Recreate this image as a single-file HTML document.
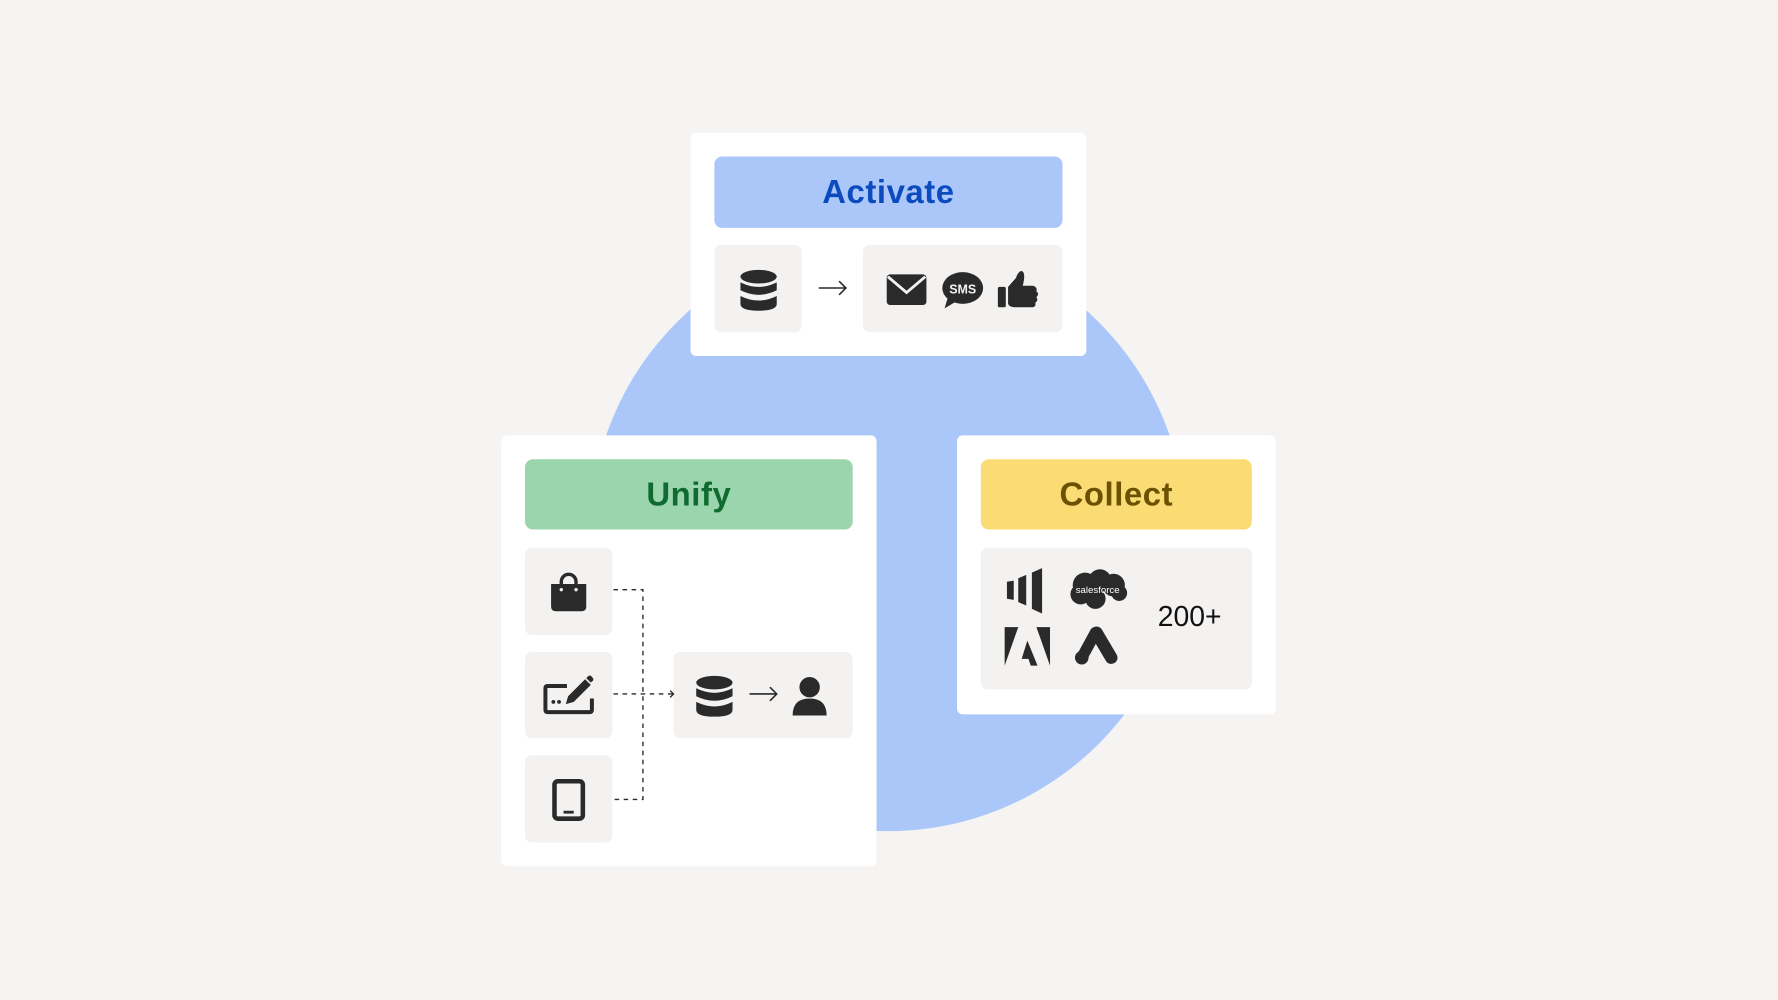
<!DOCTYPE html>
<html><head><meta charset="utf-8"><style>
html,body{margin:0;padding:0;width:1778px;height:1000px;overflow:hidden;background:#f5f4f2;}
#w{position:absolute;left:0;top:0;width:1568px;height:882px;transform:scale(1.13393);transform-origin:0 0;font-family:"Liberation Sans",sans-serif;}
.a{position:absolute;}
.card{background:#fff;border-radius:5px;}
.hd{border-radius:7px;display:flex;align-items:center;justify-content:center;font-weight:bold;font-size:29px;letter-spacing:0.5px;padding-top:2px;box-sizing:border-box;}
.bx{background:#f3f2f0;border-radius:6px;}
</style></head><body><div id="w">
<div class="a" style="left:520px;top:207px;width:526px;height:526px;border-radius:50%;background:#abc7fa"></div>

<div class="a card" style="left:609px;top:117px;width:349px;height:197px"></div>
<div class="a hd" style="left:630px;top:138px;width:307px;height:63px;background:#abc7fa;color:#0b4bbd">Activate</div>
<div class="a bx" style="left:630px;top:216px;width:77px;height:77px"></div>
<div class="a bx" style="left:761px;top:216px;width:176px;height:77px"></div>

<div class="a card" style="left:442px;top:384px;width:331px;height:380px"></div>
<div class="a hd" style="left:463px;top:405px;width:289px;height:62px;background:#9bd5ae;color:#0f6b2f">Unify</div>
<div class="a bx" style="left:463px;top:483px;width:77px;height:77px"></div>
<div class="a bx" style="left:463px;top:575px;width:77px;height:76px"></div>
<div class="a bx" style="left:463px;top:666px;width:77px;height:77px"></div>
<div class="a bx" style="left:594px;top:575px;width:158px;height:76px"></div>

<div class="a card" style="left:844px;top:384px;width:281px;height:246px"></div>
<div class="a hd" style="left:865px;top:405px;width:239px;height:62px;background:#fbdb74;color:#6b5200">Collect</div>
<div class="a bx" style="left:865px;top:483px;width:239px;height:125px"></div>
<div class="a" style="left:1021px;top:530px;font-size:25px;color:#111">200+</div>

<svg class="a" style="left:0;top:0" width="1568" height="882" viewBox="0 0 1568 882">
<defs><g id="db"><ellipse cx="0" cy="-12" rx="16" ry="6"/><path d="M-16 -7 q16 8 32 0 v7 q-16 8 -32 0z"/><path d="M-16 5 q16 8 32 0 v7 q0 6 -16 6 q-16 0 -16 -6z"/></g></defs>
<g fill="#2a2a2a">
<use href="#db" x="669" y="256"/>
<use href="#db" x="630" y="614"/>
<rect x="782" y="242" width="35" height="27" rx="3"/>
<path d="M783 244 L799.5 258 L816 244" stroke="#f3f2f0" stroke-width="2.5" fill="none"/>
<ellipse cx="849" cy="254" rx="18" ry="14"/><path d="M836 262 l-3 10 l10 -6z"/>
<text x="849" y="259" font-size="11" font-weight="bold" fill="#f3f2f0" text-anchor="middle" font-family="Liberation Sans">SMS</text>
<rect x="880" y="253" width="7" height="18" rx="1.5"/>
<path d="M889 253 l7 -8 q2 -6 5 -6 q3 1 2 8 l-1 5 h9 q4 1 3 5 q3 2 0 5 q2 3 -1 5 q1 4 -3 4 h-14 q-7 0 -7 -4z"/>
<path d="M495 517 v-4 a6.5 6.5 0 0 1 13 0 v4" stroke="#2a2a2a" stroke-width="3" fill="none"/>
<path d="M486 515 h31 v20 q0 4 -4 4 h-23 q-4 0 -4 -4z"/>
<circle cx="495" cy="520" r="1.5" fill="#f3f2f0"/><circle cx="508" cy="520" r="1.5" fill="#f3f2f0"/>
<path d="M500 605 h-17 q-2 0 -2 2 v19 q0 2 2 2 h37 q2 0 2 -2 v-10" stroke="#2a2a2a" stroke-width="3.5" fill="none"/>
<circle cx="488" cy="619" r="1.7"/><circle cx="493" cy="619" r="1.7"/>
<path d="M499 621 l2 -7 l15 -15 l5 5 l-15 15z"/><path d="M517 598 l2 -2 q2 -1 3 1 l1 1 q1 2 -1 3 l-1 1z"/>
<rect x="489" y="689" width="25" height="33" rx="3" fill="none" stroke="#2a2a2a" stroke-width="4"/>
<rect x="497" y="715" width="9" height="2.5" fill="#2a2a2a"/>
<circle cx="714" cy="606" r="9"/><path d="M699 631 q0 -15 15 -15 q15 0 15 15z"/>
<path d="M888 513 l6 -1 v17 l-6 -1z M898 510 l7 -3 v27 l-7 -3z M910 505 l9 -4 v40 l-9 -4z"/>
<g><circle cx="957" cy="516" r="11"/><circle cx="970" cy="512" r="10"/><circle cx="982" cy="516" r="10"/><circle cx="987" cy="523" r="7"/><circle cx="966" cy="528" r="9"/><circle cx="953" cy="524" r="9"/></g>
<text x="968" y="523" font-size="8.5" fill="#fff" text-anchor="middle" font-family="Liberation Sans">salesforce</text>
<path d="M886 553 h12 l-12 34z M914 553 h12 v34z M906 565 l9 22 h-6 l-2 -6 h-6z"/>
<path d="M966 558 L954 580" stroke="#2a2a2a" stroke-width="10" stroke-linecap="round"/>
<path d="M967 558 L980 580" stroke="#2a2a2a" stroke-width="11" stroke-linecap="round"/>
<circle cx="954" cy="580" r="6"/>
</g>
<g stroke="#2a2a2a" fill="none" stroke-width="1.4">
<path d="M722 254 h24 M740 248 l6 6 l-6 6"/>
<path d="M661 612 h24 M679 606 l6 6 l-6 6"/>
</g>
<g stroke="#2a2a2a" fill="none" stroke-width="1.2" stroke-dasharray="4 4">
<path d="M541 520 h26 v185 h-26"/>
<path d="M541 612 h52"/>
</g>
<path d="M591 609 l3 3 l-3 3" stroke="#2a2a2a" fill="none" stroke-width="1.2"/>
</svg>
</div></body></html>
